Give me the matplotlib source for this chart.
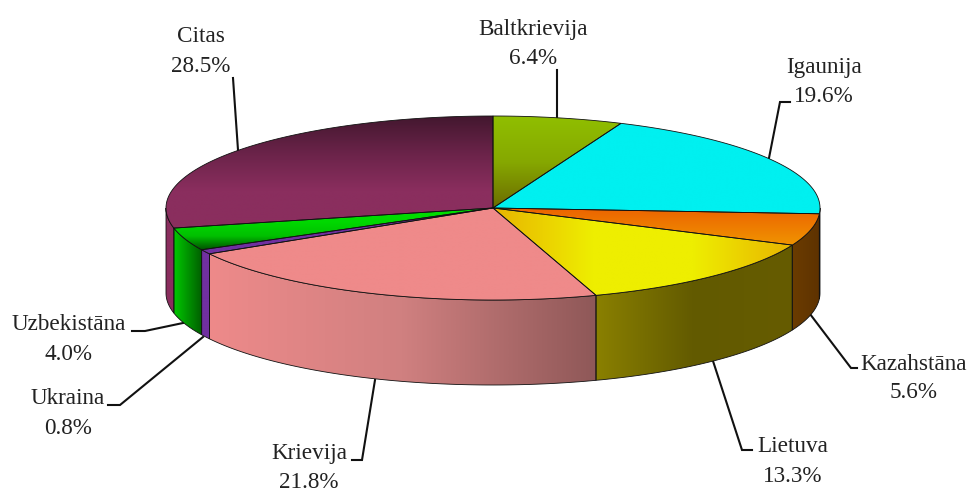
import numpy as np
import matplotlib
matplotlib.use('Agg')
import matplotlib.pyplot as plt
from matplotlib.colors import LinearSegmentedColormap
from matplotlib.patches import PathPatch
from matplotlib.path import Path

plt.rcParams['font.family'] = ['Liberation Serif', 'DejaVu Serif']

# data, clockwise from 12 o'clock
names = ['Baltkrievija', 'Igaunija', 'Kazahstāna', 'Lietuva', 'Krievija', 'Ukraina', 'Uzbekistāna', 'Citas']
shares = [6.4, 19.6, 5.6, 13.3, 21.8, 0.8, 4.0, 28.5]

# pie geometry in pixels
CX, CY = 493, 208
RX, RY = 327, 92
DEPTH = 85

# (direction of gradient, colours) for top faces and side walls
top_style = [
    ('v', ['#90bf00', '#86a800', '#6c6c00']),
    ('v', ['#00f0f0', '#00f0f0']),
    ('v', ['#ec6200', '#f09400']),
    ('h', ['#e8b400', '#eeee00', '#eeee00', '#e8b400']),
    ('v', ['#ef8a8a', '#ef8a8a']),
    ('v', ['#7030a0', '#7030a0']),
    ('v', ['#00e000', '#00d800', '#00c000', '#004f00']),
    ('v', ['#42172e', '#6a2349', '#8a2e5e', '#8a2e5e']),
]
side_style = [
    ('h', ['#00a0a0', '#00a0a0']),
    ('h', ['#00a0a0', '#00a0a0']),
    ('h', ['#6b3c00', '#5e3200']),
    ('h', ['#8a8000', '#625a00', '#665c00']),
    ('h', ['#ee8a8a', '#d08080', '#8f5858']),
    ('h', ['#7030a0', '#7030a0']),
    ('h', ['#00c800', '#005e00']),
    ('h', ['#8a2e5e', '#8a2e5e']),
]

# label centres and leader lines
label_x = [533, 824, 914, 793, 309, 68, 69, 201]
label_y = [29, 67, 364, 447, 454, 399, 325, 37]
leaders = [
    [(557, 117), (557, 70)],
    [(769, 158), (780, 102), (790, 102)],
    [(810, 314), (851, 368), (857, 368)],
    [(713, 361), (742, 450), (752, 450)],
    [(375, 380), (362, 460), (352, 460)],
    [(203, 337), (120, 405), (108, 405)],
    [(183, 323), (145, 331), (132, 331)],
    [(238, 150), (233, 78)],
]


def rim(t0, t1, dy=0):
    t = np.radians(np.linspace(t0, t1, max(int(abs(t1 - t0) * 2), 2)))
    return np.column_stack([CX + RX * np.sin(t), CY + dy + RY * -np.cos(t)])


def fill_gradient(ax, pts, style, z):
    direction, colors = style
    cmap = LinearSegmentedColormap.from_list('g', colors)
    x0, y0 = pts.min(axis=0)
    x1, y1 = pts.max(axis=0)
    ramp = np.linspace(0, 1, 256)
    ramp = ramp.reshape(1, -1) if direction == 'h' else ramp.reshape(-1, 1)
    im = ax.imshow(ramp, cmap=cmap, extent=(x0, x1, y1, y0), aspect='auto',
                   interpolation='bilinear', zorder=z)
    closed = Path(np.vstack([pts, pts[0]]), closed=True)
    outline = PathPatch(closed, facecolor='none', edgecolor='#111111', linewidth=0.6, zorder=z + 0.1)
    ax.add_patch(outline)
    im.set_clip_path(outline)


fig = plt.figure(figsize=(9.7, 4.92), dpi=100)
ax = fig.add_axes([0, 0, 1, 1])

edges = np.cumsum([0] + shares) / sum(shares) * 360

# side walls, only the front half of the pie is seen
for i in range(len(shares)):
    t0 = max(edges[i], 90)
    t1 = min(edges[i + 1], 270)
    if t1 > t0:
        wall = np.vstack([rim(t0, t1), rim(t0, t1, DEPTH)[::-1]])
        fill_gradient(ax, wall, side_style[i], 2)

# top faces
for i in range(len(shares)):
    face = np.vstack([[(CX, CY)], rim(edges[i], edges[i + 1])])
    fill_gradient(ax, face, top_style[i], 3)

for i, name in enumerate(names):
    xs, ys = zip(*leaders[i])
    ax.plot(xs, ys, color='#111111', lw=1.5, zorder=1, solid_joinstyle='miter')
    ax.text(label_x[i], label_y[i], name, ha='center', va='center', fontsize=16.7, color='#222222')
    ax.text(label_x[i], label_y[i] + 29, f'{shares[i]:.1f}%', ha='center', va='center',
            fontsize=16.7, color='#222222')

ax.set_xlim(0, 970)
ax.set_ylim(492, 0)
ax.axis('off')
fig.savefig('out.png', dpi=100, facecolor='white')
